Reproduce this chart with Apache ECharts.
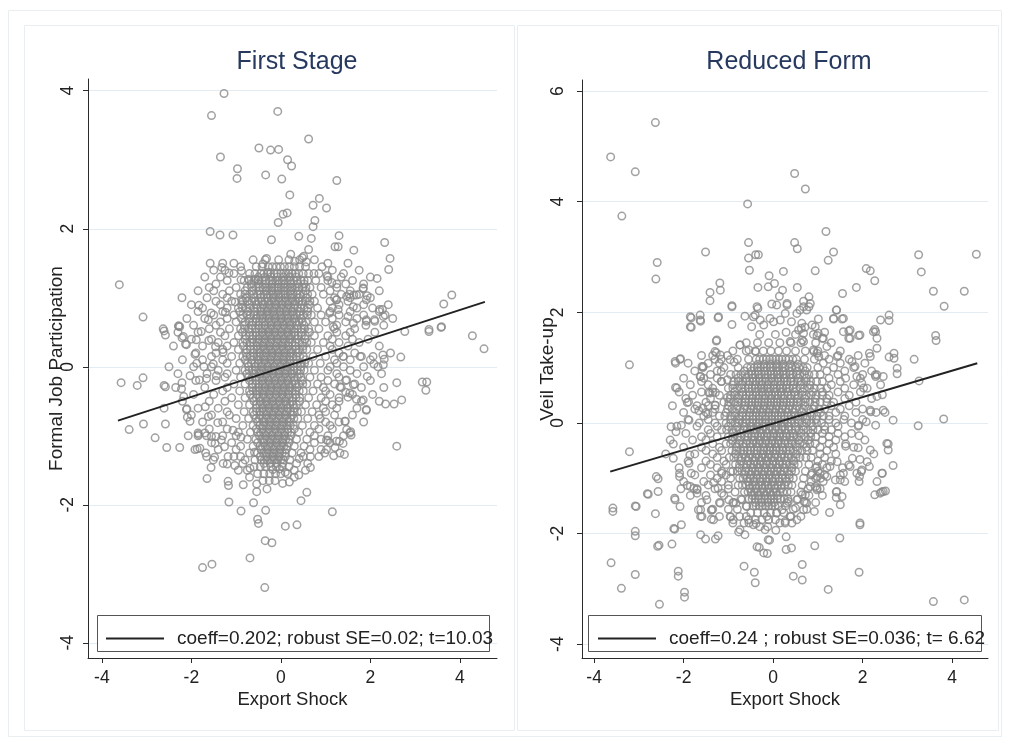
<!DOCTYPE html>
<html>
<head>
<meta charset="utf-8">
<title>First Stage / Reduced Form</title>
<script src="https://cdn.jsdelivr.net/npm/echarts@6.0.0/dist/echarts.min.js"></script>
<style>
  html, body { margin: 0; padding: 0; background: #fff; }
  #chart { width: 1010px; height: 740px; }
</style>
</head>
<body>
<div id="chart"></div>
<script>
// tick labels
const xTicks = [-4, -2, 0, 2, 4];
const firstYTicks = [-4, -2, 0, 2, 4];
const reducedYTicks = [-4, -2, 0, 2, 4, 6];

const firstLegendText = 'coeff=0.202; robust SE=0.02; t=10.03';
const reducedLegendText = 'coeff=0.24 ; robust SE=0.036; t= 6.62';

// fitted lines, end points
const firstFit = [[-3.64, -0.78], [4.56, 0.94]];
const reducedFit = [[-3.64, -0.88], [4.56, 1.08]];

// First Stage: scattered points outside the dense cloud, [x, y]
const firstScatter = [
  [-1.27,3.96],[-1.55,3.64],[-0.07,3.70],[0.62,3.30],[-1.35,3.04],[-0.49,3.17],[-0.23,3.14],[-0.05,3.15],
  [-0.97,2.87],[-0.98,2.73],[-0.34,2.78],[0.02,2.72],[0.15,3.00],[0.24,2.91],[1.25,2.70],[0.20,2.49],
  [0.86,2.44],[0.72,2.34],[1.02,2.30],[0.05,2.21],[0.14,2.23],[-0.06,2.09],[0.76,2.12],[0.72,2.03],
  [-1.58,1.96],[-1.36,1.91],[-1.07,1.91],[-0.21,1.84],[0.40,1.89],[0.68,1.86],[1.30,1.90],[0.62,1.70],
  [1.21,1.74],[1.28,1.74],[1.63,1.69],[2.32,1.80],[2.44,1.57],[2.41,1.41],[2.15,1.28],[-1.58,1.50],
  [-1.32,1.44],[-1.16,1.36],[-0.88,1.39],[-3.61,1.19],[-3.08,0.72],[-2.21,1.00],[-1.83,0.89],[-2.28,0.59],
  [-2.63,0.55],[-1.56,0.78],[-1.62,0.68],[-1.24,0.79],[-1.02,0.94],[-0.88,0.97],[-0.89,1.26],[-0.72,1.27],
  [-0.57,1.27],[-0.51,1.26],[-0.40,1.49],[-0.32,1.57],[0.22,1.63],[0.48,1.58],[0.57,1.52],[0.74,1.35],
  [1.03,1.32],[1.14,1.22],[1.53,1.05],[1.63,1.04],[1.84,1.13],[1.93,1.03],[1.25,0.97],[3.82,1.04],
  [3.64,0.91],[2.27,0.83],[2.33,0.75],[1.91,0.66],[2.09,0.68],[3.59,0.58],[3.31,0.54],[4.28,0.45],
  [4.54,0.26],[3.58,0.57],[3.31,0.51],[2.77,0.51],[2.68,0.14],[2.28,0.17],[2.31,0.11],[2.17,0.00],
  [2.08,0.04],[2.59,-0.23],[3.16,-0.22],[3.26,-0.22],[3.24,-0.34],[2.34,-0.54],[2.53,-0.54],[2.70,-0.48],
  [2.59,-1.15],[1.93,-0.14],[1.91,-0.63],[1.84,-0.48],[1.69,-0.47],[1.50,-0.44],[1.45,-0.37],[1.44,-0.79],
  [1.56,-0.94],[1.57,-0.99],[1.42,-1.27],[1.18,-1.29],[1.21,-1.17],[1.31,-1.08],[1.05,-1.07],[0.98,-1.25],
  [1.15,-2.10],[0.58,-1.82],[0.45,-1.94],[0.66,-1.46],[0.66,-1.30],[0.41,-1.33],[0.40,-1.57],[0.36,-2.29],
  [0.10,-2.31],[-0.34,-2.08],[-0.52,-2.21],[-0.50,-2.27],[-0.35,-2.52],[-0.20,-2.55],[-0.69,-2.77],[-1.75,-2.91],
  [-1.54,-2.86],[-0.36,-3.20],[-0.89,-2.09],[-0.61,-1.97],[-1.16,-1.96],[-1.65,-1.62],[-1.56,-1.46],[-1.18,-1.66],
  [-1.17,-1.72],[-0.84,-1.71],[-0.54,-1.70],[-0.54,-1.81],[-0.31,-1.77],[0.19,-1.67],[0.04,-1.69],[-3.57,-0.23],
  [-3.39,-0.91],[-3.21,-0.27],[-3.08,-0.16],[-3.07,-0.83],[-2.81,-1.03],[-2.55,-1.17],[-2.26,-1.17],[-2.58,-0.83],
  [-2.61,-0.27],[-2.58,-0.29],[-2.61,-0.60],[-2.21,-0.23],[-2.22,-0.32],[-2.17,-0.43],[-2.10,-0.61],[-2.09,-0.73],
  [-2.03,-0.79],[-2.07,-1.00],[-1.84,-0.98],[-1.66,-1.00],[-1.87,-1.19],[-1.68,-1.25],[-2.03,-0.13],[-1.82,-0.19],
  [-1.66,-0.17],[-1.44,-0.13],[-2.29,0.59],[-2.13,0.33],[-2.21,0.42],[-2.61,0.52],[-2.58,0.46],[-1.89,0.39],
  [-1.92,0.18],[-1.88,0.05],[-1.78,0.51],[-1.61,0.38],[-1.46,0.29],[-1.29,0.21],[-1.51,0.04],[-1.72,0.00],
  [-1.69,-0.58],[-1.62,-0.72],[-1.41,-0.81],[-1.07,-0.92],[-0.89,-1.02],[-1.45,-1.01],[-1.33,-1.06],[-1.26,-1.16],
  [-1.48,-1.31],[-1.20,-1.41],[-1.03,-1.43],[-0.69,-1.47],[-0.59,-1.24],[-0.18,-1.49],[-0.03,-1.48],[0.10,-1.53],
  [-2.11,-0.62],[-1.85,-0.96],[-1.70,-0.96],[-1.55,-1.01],[-1.47,-1.11],[-1.81,-1.18],[-1.92,-1.20],[-1.66,-1.30],
  [-1.51,-1.35],[-1.29,-1.40],[-1.18,-1.30],[1.02,-1.06],[1.24,-1.08],[1.39,-1.11],[1.32,-1.25],[1.02,-1.20],
  [1.47,-0.91],[1.54,-0.96],[1.43,-0.79],[1.80,-0.50],[1.91,-0.62],[1.47,-0.19],[1.62,-0.26],[1.32,-0.29],
  [1.54,-0.38],[1.77,0.15],[2.06,0.15],[2.29,0.03],[1.39,0.15],[1.47,1.02],[1.69,1.04],[1.84,1.14],
  [1.91,0.97],[1.62,0.87],[1.50,0.73],[2.21,0.83],[2.29,0.73],[1.91,0.68],[2.10,0.66],[1.24,0.97],
  [1.28,0.83],[1.09,0.78],[1.17,0.58],[1.62,0.63],[-0.28,1.37],[0.31,1.53],[0.51,1.60],[-2.26,0.58],
  [-2.18,0.44],[-2.11,0.32]
];

// First Stage: dense cloud, one row per y level: [y, [x, ...]]
const firstCoreRows = [
  [1.55, [-0.62,-0.35,-0.05,0.18,0.42,0.75]],
  [1.45, [-0.9,-0.55,-0.28,-0.1,0.08,0.3,0.55,0.92]],
  [1.35, [-1.05,-0.7,-0.45,-0.3,-0.15,0.0,0.12,0.25,0.4,0.62,0.85,1.4]],
  [1.25, [-1.2,-0.82,-0.6,-0.42,-0.25,-0.12,0.02,0.15,0.28,0.45,0.6,0.78,1.05,1.6]],
  [1.15, [-1.6,-1.0,-0.75,-0.55,-0.4,-0.28,-0.15,-0.05,0.08,0.2,0.32,0.48,0.65,0.9,1.25]],
  [1.05, [-1.3,-0.9,-0.7,-0.52,-0.38,-0.25,-0.12,0.0,0.1,0.22,0.35,0.5,0.7,0.95,1.35,1.75]],
  [0.95, [-1.45,-1.1,-0.85,-0.65,-0.5,-0.36,-0.22,-0.1,0.03,0.15,0.27,0.4,0.55,0.75,1.1,1.5]],
  [0.85, [-1.75,-1.2,-0.95,-0.78,-0.6,-0.45,-0.32,-0.2,-0.08,0.05,0.17,0.3,0.44,0.6,0.82,1.15,1.7,2.05]],
  [0.75, [-1.5,-1.05,-0.85,-0.68,-0.52,-0.4,-0.27,-0.15,-0.03,0.1,0.22,0.35,0.5,0.68,0.9,1.3,1.85]],
  [0.65, [-1.35,-1.0,-0.8,-0.62,-0.48,-0.35,-0.22,-0.1,0.02,0.14,0.26,0.4,0.56,0.75,1.0,1.45]],
  [0.55, [-1.6,-1.15,-0.9,-0.72,-0.56,-0.43,-0.3,-0.18,-0.06,0.06,0.18,0.3,0.45,0.62,0.85,1.2,1.65]],
  [0.45, [-1.25,-0.95,-0.78,-0.62,-0.48,-0.36,-0.24,-0.12,0.0,0.12,0.24,0.38,0.55,0.75,1.05,1.45]],
  [0.35, [-1.4,-1.05,-0.85,-0.68,-0.54,-0.42,-0.3,-0.18,-0.06,0.06,0.18,0.32,0.48,0.68,0.95,1.3,1.75]],
  [0.25, [-1.3,-0.95,-0.76,-0.6,-0.47,-0.35,-0.23,-0.11,0.01,0.13,0.26,0.4,0.58,0.82,1.15]],
  [0.15, [-1.55,-1.1,-0.85,-0.68,-0.53,-0.4,-0.28,-0.16,-0.04,0.08,0.2,0.34,0.5,0.72,1.0,1.4,1.8]],
  [0.05, [-1.2,-0.92,-0.74,-0.58,-0.45,-0.33,-0.21,-0.09,0.03,0.15,0.28,0.44,0.62,0.88,1.25]],
  [-0.05, [-1.4,-1.0,-0.8,-0.63,-0.5,-0.38,-0.26,-0.14,-0.02,0.1,0.22,0.36,0.52,0.75,1.05,1.55]],
  [-0.15, [-1.25,-0.9,-0.72,-0.56,-0.43,-0.31,-0.19,-0.07,0.05,0.17,0.3,0.45,0.65,0.9,1.3]],
  [-0.25, [-1.05,-0.8,-0.63,-0.49,-0.36,-0.24,-0.12,0.0,0.12,0.25,0.4,0.58,0.82,1.2,1.65]],
  [-0.35, [-1.3,-0.92,-0.7,-0.55,-0.42,-0.3,-0.18,-0.06,0.06,0.18,0.32,0.5,0.72,1.0]],
  [-0.45, [-1.1,-0.8,-0.62,-0.48,-0.35,-0.23,-0.11,0.01,0.13,0.26,0.42,0.62,0.9,1.3]],
  [-0.55, [-0.95,-0.7,-0.54,-0.41,-0.29,-0.17,-0.05,0.07,0.2,0.35,0.55,0.8,1.15]],
  [-0.65, [-1.2,-0.82,-0.62,-0.47,-0.34,-0.22,-0.1,0.02,0.14,0.28,0.46,0.7,1.0]],
  [-0.75, [-1.0,-0.72,-0.55,-0.41,-0.28,-0.16,-0.04,0.08,0.21,0.38,0.6,0.88]],
  [-0.85, [-0.85,-0.62,-0.47,-0.34,-0.22,-0.1,0.02,0.14,0.28,0.48,0.75,1.1]],
  [-0.95, [-0.95,-0.68,-0.52,-0.39,-0.27,-0.15,-0.03,0.09,0.22,0.4,0.65]],
  [-1.05, [-0.75,-0.56,-0.43,-0.31,-0.19,-0.07,0.05,0.18,0.35,0.58,0.9]],
  [-1.15, [-0.9,-0.62,-0.47,-0.35,-0.23,-0.11,0.01,0.14,0.3,0.52]],
  [-1.25, [-0.7,-0.52,-0.39,-0.27,-0.15,-0.03,0.1,0.25,0.45]],
  [-1.35, [-0.8,-0.58,-0.44,-0.31,-0.19,-0.07,0.06,0.2]],
  [-1.45, [-0.6,-0.46,-0.34,-0.22,-0.1,0.03,0.18]],
  [-1.55, [-0.52,-0.38,-0.25,-0.12,0.0,0.15]],
  [-1.65, [-0.4,-0.26,-0.13]],
  // in-between rows where the cloud is solid
  [1.3, [-0.5,-0.36,-0.22,-0.08,0.06,0.2,0.34]],
  [1.2, [-0.66,-0.5,-0.34,-0.2,-0.06,0.08,0.22,0.38,0.52]],
  [1.1, [-0.8,-0.64,-0.48,-0.33,-0.2,-0.06,0.08,0.22,0.38,0.55]],
  [1.0, [-0.78,-0.6,-0.45,-0.3,-0.17,-0.04,0.1,0.24,0.4,0.58]],
  [0.9, [-0.88,-0.7,-0.55,-0.4,-0.26,-0.12,0.02,0.16,0.3,0.46,0.64]],
  [0.8, [-0.92,-0.74,-0.58,-0.44,-0.3,-0.16,-0.02,0.12,0.26,0.42,0.6]],
  [0.7, [-0.88,-0.7,-0.55,-0.41,-0.27,-0.13,0.01,0.15,0.3,0.46]],
  [0.6, [-0.82,-0.64,-0.5,-0.36,-0.22,-0.08,0.06,0.2,0.36,0.52]],
  [0.5, [-0.86,-0.7,-0.55,-0.41,-0.27,-0.13,0.01,0.15,0.3,0.46,0.64]],
  [0.4, [-0.8,-0.64,-0.5,-0.36,-0.22,-0.08,0.06,0.2,0.36,0.54]],
  [0.3, [-0.84,-0.68,-0.53,-0.39,-0.25,-0.11,0.03,0.17,0.32,0.5]],
  [0.2, [-0.78,-0.62,-0.48,-0.34,-0.2,-0.06,0.08,0.22,0.38]],
  [0.1, [-0.8,-0.64,-0.5,-0.36,-0.22,-0.08,0.06,0.2,0.36,0.55]],
  [0.0, [-0.72,-0.57,-0.43,-0.29,-0.15,-0.01,0.13,0.28,0.45]],
  [-0.1, [-0.76,-0.6,-0.46,-0.32,-0.18,-0.04,0.1,0.25,0.42]],
  [-0.2, [-0.7,-0.55,-0.41,-0.27,-0.13,0.01,0.15,0.3,0.48]],
  [-0.3, [-0.64,-0.5,-0.36,-0.22,-0.08,0.06,0.2,0.36]],
  [-0.4, [-0.68,-0.53,-0.39,-0.25,-0.11,0.03,0.17,0.33]],
  [-0.5, [-0.6,-0.46,-0.32,-0.18,-0.04,0.1,0.25,0.42]],
  [-0.6, [-0.55,-0.41,-0.27,-0.13,0.01,0.15,0.3]],
  [-0.7, [-0.6,-0.46,-0.32,-0.18,-0.04,0.1,0.26]],
  [-0.8, [-0.52,-0.38,-0.24,-0.1,0.04,0.18]],
  [-0.9, [-0.55,-0.41,-0.27,-0.13,0.01,0.15,0.3]],
  [-1.0, [-0.48,-0.34,-0.2,-0.06,0.08,0.22]],
  [-1.1, [-0.52,-0.38,-0.24,-0.1,0.04,0.18]],
  [-1.2, [-0.44,-0.3,-0.16,-0.02,0.12]],
  [-1.3, [-0.46,-0.32,-0.18,-0.04,0.1]],
  [-1.4, [-0.38,-0.24,-0.1,0.04]]
];

// First Stage: the solid centre of the cloud
const firstFillRows = [
  [1.45, [-0.42,-0.19,-0.01,0.19,0.42]],
  [1.35, [-0.58,-0.38,-0.23,-0.08,0.06,0.18,0.32,0.5]],
  [1.25, [-0.71,-0.51,-0.33,-0.18,-0.05,0.08,0.21,0.36,0.52]],
  [1.15, [-0.65,-0.47,-0.34,-0.21,-0.1,0.01,0.14,0.26,0.4,0.56]],
  [1.05, [-0.8,-0.61,-0.45,-0.31,-0.18,-0.06,0.05,0.16,0.28,0.42,0.6]],
  [0.95, [-0.75,-0.57,-0.43,-0.29,-0.16,-0.04,0.09,0.21,0.33,0.47,0.65]],
  [0.85, [-0.86,-0.69,-0.52,-0.38,-0.26,-0.14,-0.01,0.11,0.23,0.37,0.52]],
  [0.75, [-0.76,-0.6,-0.46,-0.33,-0.21,-0.09,0.03,0.16,0.28,0.42,0.59]],
  [0.65, [-0.71,-0.55,-0.41,-0.28,-0.16,-0.04,0.08,0.2,0.33,0.48]],
  [0.55, [-0.81,-0.64,-0.49,-0.36,-0.24,-0.12,0.0,0.12,0.24,0.37,0.53]],
  [0.45, [-0.7,-0.55,-0.42,-0.3,-0.18,-0.06,0.06,0.18,0.31,0.46]],
  [0.35, [-0.76,-0.61,-0.48,-0.36,-0.24,-0.12,0.0,0.12,0.25,0.4,0.58]],
  [0.25, [-0.68,-0.53,-0.41,-0.29,-0.17,-0.05,0.07,0.19,0.33,0.49]],
  [0.15, [-0.76,-0.6,-0.46,-0.34,-0.22,-0.1,0.02,0.14,0.27,0.42]],
  [0.05, [-0.66,-0.51,-0.39,-0.27,-0.15,-0.03,0.09,0.21,0.36,0.53]],
  [-0.05, [-0.71,-0.56,-0.44,-0.32,-0.2,-0.08,0.04,0.16,0.29,0.44]],
  [-0.15, [-0.64,-0.49,-0.37,-0.25,-0.13,-0.01,0.11,0.23,0.37]],
  [-0.25, [-0.56,-0.42,-0.3,-0.18,-0.06,0.06,0.18,0.32,0.49]],
  [-0.35, [-0.62,-0.48,-0.36,-0.24,-0.12,0.0,0.12,0.25,0.41]],
  [-0.45, [-0.55,-0.41,-0.29,-0.17,-0.05,0.07,0.19,0.34]],
  [-0.55, [-0.47,-0.35,-0.23,-0.11,0.01,0.13,0.27]],
  [-0.65, [-0.54,-0.4,-0.28,-0.16,-0.04,0.08,0.21,0.37]],
  [-0.75, [-0.48,-0.34,-0.22,-0.1,0.02,0.14,0.29]],
  [-0.85, [-0.4,-0.28,-0.16,-0.04,0.08,0.21]],
  [-0.95, [-0.45,-0.33,-0.21,-0.09,0.03,0.15]],
  [-1.05, [-0.37,-0.25,-0.13,-0.01,0.11]],
  [-1.15, [-0.41,-0.29,-0.17,-0.05,0.07]],
  [-1.25, [-0.33,-0.21,-0.09,0.03]],
  [-1.35, [-0.37,-0.25,-0.13,0.0]]
];

// First Stage: thinner ring of points around the dense cloud
const firstFringeRows = [
  [1.5, [-1.3,-1.05,1.05,1.5]],
  [1.4, [-1.5,-1.25,1.15,1.75]],
  [1.3, [-1.7,-1.35,1.05,1.35,2.0]],
  [1.2, [-1.45,1.25,1.45,1.85]],
  [1.1, [-1.85,-1.5,-1.15,1.1,1.55,2.2]],
  [1.0, [-1.65,-1.2,1.2,1.55,2.0]],
  [0.9, [-2.0,-1.35,1.3,1.85,2.4]],
  [0.8, [-1.85,-1.3,1.1,1.55,2.2]],
  [0.7, [-2.1,-1.7,-1.2,1.15,1.7,2.5]],
  [0.6, [-1.95,-1.45,1.25,1.9,2.3]],
  [0.5, [-2.3,-1.85,-1.35,1.25,1.55,2.1]],
  [0.4, [-2.0,-1.55,1.15,1.6,1.95]],
  [0.3, [-2.4,-1.75,-1.2,1.1,1.5,2.2]],
  [0.2, [-1.9,-1.45,1.3,1.65,2.45]],
  [0.1, [-2.2,-1.75,-1.3,1.2,1.55,2.0]],
  [0.0, [-2.5,-1.95,-1.55,1.1,1.4,1.85]],
  [-0.1, [-2.3,-1.65,-1.2,1.25,1.7,2.25]],
  [-0.2, [-1.9,-1.45,1.05,1.45,2.0]],
  [-0.3, [-2.35,-1.7,-1.2,0.95,1.35,1.8,2.3]],
  [-0.4, [-1.95,-1.5,1.1,1.6,2.05]],
  [-0.5, [-2.2,-1.6,-1.25,1.0,1.3,2.2]],
  [-0.6, [-1.85,-1.4,0.95,1.25,1.7]],
  [-0.7, [-2.0,-1.55,-1.15,0.85,1.2,1.6]],
  [-0.8, [-1.75,-1.3,1.0,1.3,1.85]],
  [-0.9, [-1.6,-1.2,0.85,1.15]],
  [-1.0, [-1.85,-1.3,-1.0,0.75,1.05,1.4]],
  [-1.1, [-1.55,-1.1,0.75,1.1]],
  [-1.2, [-1.4,-1.0,0.65,0.9]],
  [-1.3, [-1.05,-0.9,0.5,0.85]],
  [-1.4, [-0.85,0.35,0.6]],
  [-1.5, [-0.95,-0.75,0.3,0.55]],
  [-1.6, [-0.7,0.3]]
];

// Reduced Form: scattered points outside the dense cloud, [x, y]
const reducedScatter = [
  [-2.63,5.43],[-3.63,4.81],[-3.08,4.54],[-3.38,3.74],[0.48,4.51],[0.72,4.23],[-0.57,3.96],[1.18,3.46],
  [-0.55,3.26],[0.48,3.26],[0.54,3.15],[1.35,3.09],[1.23,2.94],[-0.55,2.98],[-0.39,3.04],[-0.33,3.04],
  [-0.53,2.76],[-1.51,3.09],[-2.59,2.90],[-2.62,2.60],[3.25,3.04],[3.31,2.73],[4.54,3.05],[3.58,2.38],
  [4.27,2.38],[3.82,2.11],[2.08,2.79],[2.17,2.75],[2.27,2.57],[1.86,2.45],[1.55,2.34],[0.94,2.75],
  [0.23,2.74],[-0.09,2.66],[0.03,2.52],[0.54,2.45],[-0.34,2.45],[-0.11,2.46],[-1.19,2.53],[-1.18,2.40],
  [-1.41,2.36],[-1.41,2.21],[-0.92,2.12],[-0.03,2.15],[0.14,2.29],[0.21,2.40],[0.31,2.16],[0.68,2.20],
  [0.80,2.28],[0.80,2.10],[0.60,2.04],[1.41,2.04],[-1.83,1.90],[-1.63,1.95],[-1.63,1.86],[-1.23,1.90],
  [-0.92,1.78],[-0.63,1.93],[-0.34,2.07],[-0.40,1.95],[1.35,1.88],[1.54,1.88],[1.01,1.88],[2.40,1.86],
  [2.59,1.95],[2.59,1.85],[2.27,1.69],[-3.21,1.05],[-2.18,1.08],[-2.07,1.16],[-2.18,0.64],[-1.92,0.37],
  [-1.83,1.73],[-1.62,1.84],[-1.27,1.48],[-1.27,1.27],[-1.16,1.15],[-1.02,1.22],[-0.87,1.10],[-1.57,1.00],
  [-1.62,0.84],[-1.16,0.93],[-1.16,0.75],[-1.02,0.78],[-1.44,0.55],[-1.29,0.55],[-1.02,0.46],[-1.29,0.32],
  [-0.74,1.41],[-0.54,1.32],[-0.39,1.29],[-0.48,1.74],[-0.21,1.77],[0.01,1.83],[0.29,1.64],[0.41,1.83],
  [0.63,1.71],[0.71,1.73],[0.87,1.77],[0.65,1.50],[0.98,1.58],[1.15,1.64],[1.10,1.53],[0.91,1.29],
  [1.02,1.20],[1.43,1.20],[1.69,1.66],[1.69,1.53],[1.91,1.58],[2.29,1.65],[2.32,1.53],[2.32,1.35],
  [2.15,1.26],[2.17,1.20],[2.59,1.19],[2.70,1.26],[2.70,1.17],[3.15,1.15],[3.63,1.58],[3.64,1.49],
  [2.77,0.99],[2.77,0.89],[3.26,0.76],[2.29,0.84],[2.32,0.87],[3.81,0.07],[3.24,-0.05],[2.68,0.05],
  [2.50,0.19],[2.18,0.20],[2.29,-0.04],[2.32,0.48],[2.44,0.51],[2.08,0.02],[1.91,-0.04],[1.92,-0.23],
  [1.90,-0.45],[2.57,-0.38],[2.57,-0.49],[2.68,-0.77],[2.44,-0.91],[2.10,-0.70],[2.15,-0.79],[1.97,-0.88],
  [1.93,-0.97],[1.92,-1.06],[2.27,-1.30],[2.42,-1.25],[2.51,-1.23],[1.94,-1.81],[1.94,-1.84],[1.49,-2.08],
  [1.92,-2.70],[1.23,-3.01],[0.93,-2.22],[0.65,-2.56],[0.45,-2.77],[0.65,-2.84],[0.29,-2.06],[0.29,-2.29],
  [0.41,-2.26],[-0.11,-2.11],[-0.08,-2.12],[-0.21,-2.35],[-0.13,-2.36],[-0.36,-2.24],[-0.31,-2.25],[-0.65,-2.59],
  [-0.42,-2.70],[-0.40,-2.89],[-0.77,-1.97],[-0.63,-2.02],[-0.74,-1.93],[-0.18,-1.93],[0.06,-1.94],[0.27,-1.78],
  [-0.95,-1.70],[-0.54,-1.81],[-0.38,-1.82],[-1.62,-2.02],[-1.51,-2.10],[-1.29,-2.10],[-1.23,-2.04],[-1.62,-1.57],
  [-1.62,-1.69],[-1.38,-1.58],[-1.38,-1.74],[-2.05,-1.84],[-2.22,-1.91],[-2.20,-1.92],[-2.26,-2.19],[-2.55,-2.21],
  [-2.58,-2.23],[-2.63,-1.64],[-3.08,-1.50],[-3.06,-1.51],[-3.58,-1.54],[-3.58,-1.60],[-3.08,-1.96],[-3.08,-2.04],
  [-3.62,-2.53],[-3.08,-2.74],[-3.39,-2.99],[-2.54,-3.28],[-2.12,-2.68],[-2.12,-2.77],[-1.98,-3.06],[-1.98,-3.15],
  [3.58,-3.23],[4.27,-3.20],[-2.81,-1.28],[-2.79,-1.29],[-2.57,-1.24],[-2.61,-0.97],[-2.57,-1.01],[-2.09,-0.91],
  [-2.09,-0.97],[-2.20,-1.36],[-1.92,-1.13],[-2.06,-1.19],[-1.77,-1.18],[-1.70,-1.27],[-3.21,-0.52],[-2.23,-0.64],
  [-2.23,-0.38],[-2.28,-0.07],[-2.17,-0.16],[-2.05,-0.04],[-1.88,0.05],[-1.88,-0.73],[-1.86,-0.58],[-1.83,-0.91],
  [-1.66,0.22],[-1.57,0.27],[-1.46,0.16],[-1.30,0.32],[-1.45,-1.12],[-1.33,-1.08],[-1.23,-1.18],[-1.15,-1.27],
  [-0.99,-1.39],[-0.88,-1.44],[-0.83,-1.45],[-0.95,-0.88],[-1.15,-0.91],[0.92,-1.60],[1.26,-1.62],[1.41,-1.25],
  [1.54,-1.33],[1.50,-1.48],[1.41,-1.35],[0.65,-1.30],[0.69,-1.42],[0.72,-1.30],[0.95,-1.15],[0.98,-1.21],
  [1.69,-0.76],[1.77,-0.64],[1.43,-0.70],[1.39,-1.03],[1.50,-0.94],[1.62,-0.38],[1.62,-0.42],[0.98,-0.97],
  [1.06,-1.00],[0.87,-0.91],[0.34,-1.42],[0.50,-1.54],[0.20,-1.57],[-2.19,1.11],[-2.08,1.15],[-1.59,1.02],
  [-1.63,0.84],[-2.15,0.63],[-1.89,0.38],[-1.41,0.54],[1.57,1.65],[1.72,1.68],[1.94,1.59],[1.72,1.53],
  [2.24,1.65],[1.76,1.11],[1.83,1.02],[1.87,0.84],[1.98,0.72],[2.02,0.63],[2.28,0.87],[2.46,0.84],
  [2.17,0.23],[2.46,0.23],[2.54,-0.37],[2.17,-0.49],[1.94,-0.66],[1.87,-0.91],[1.98,-0.85],[1.72,-0.79],
  [1.57,-0.91],[1.50,-1.03],[1.42,-1.24],[2.43,-0.91],[2.32,-1.06],[2.46,-1.24],[2.39,-1.27],[-2.19,-1.39],
  [-2.08,-1.51],[-1.85,-1.15],[-1.70,-1.21],[-1.67,-1.57],[-1.59,-1.69],[-1.37,-1.57],[-1.33,-1.75],[-1.48,-1.39],
  [-1.18,-1.45],[-0.96,-1.69],[-0.89,-1.75],[-0.70,-1.39],[-0.59,-1.51],[-0.55,-1.75],[-0.44,-1.84],[-0.14,-1.69],
  [0.08,-1.63],[0.31,-1.45],[0.53,-1.39],[0.38,-1.69],[0.68,-1.57],[0.75,-1.45],[0.53,-1.75],[0.27,-1.81],
  [0.98,-1.18],[0.83,-1.15],[1.05,-0.91],[1.20,-0.97],[1.27,-0.79],[0.98,-0.79],[-1.85,1.92],[-1.85,1.74],
  [-1.22,1.92],[-0.92,2.10],[-0.74,1.41],[-1.26,1.50],[-0.96,1.14],[-1.18,1.23],[-1.30,1.29],[-1.56,1.02],
  [-0.44,1.92],[-0.29,1.86],[-0.07,1.89],[0.16,1.86],[0.27,1.98],[-0.36,2.10],[0.08,2.13],[0.31,2.13],
  [0.68,2.10],[0.75,2.04],[0.83,2.16],[1.42,2.04],[1.57,1.89],[1.35,1.89],[0.94,1.74],[1.01,1.62],
  [1.12,1.53],[1.20,1.38],[0.90,1.32],[0.98,1.26],[0.53,1.98],[0.64,1.80],[0.68,1.62],[0.68,1.47],
  [0.57,1.68],[0.38,1.47]
];

// Reduced Form: dense cloud, one row per y level: [y, [x, ...]]
const reducedCoreRows = [
  [1.6, [-0.3,0.05,0.5,0.9]],
  [1.45, [-0.6,-0.35,-0.1,0.15,0.4,0.62,0.95,1.3]],
  [1.3, [-0.9,-0.6,-0.4,-0.22,-0.05,0.12,0.3,0.5,0.72,1.0,1.5]],
  [1.15, [-1.3,-0.8,-0.55,-0.38,-0.22,-0.08,0.06,0.2,0.35,0.52,0.7,0.92,1.25,1.7]],
  [1.0, [-1.1,-0.78,-0.58,-0.42,-0.28,-0.14,0.0,0.13,0.27,0.42,0.58,0.76,1.0,1.35,1.8]],
  [0.875, [-1.4,-0.95,-0.72,-0.54,-0.4,-0.26,-0.12,0.02,0.15,0.29,0.44,0.6,0.8,1.05,1.45,2.0]],
  [0.75, [-1.6,-1.15,-0.88,-0.68,-0.52,-0.38,-0.24,-0.1,0.03,0.17,0.31,0.46,0.63,0.84,1.1,1.5]],
  [0.625, [-1.35,-1.0,-0.8,-0.62,-0.47,-0.33,-0.2,-0.06,0.08,0.22,0.36,0.52,0.7,0.92,1.2,1.6,2.1]],
  [0.5, [-1.8,-1.2,-0.95,-0.76,-0.6,-0.45,-0.31,-0.17,-0.03,0.11,0.25,0.4,0.56,0.74,0.96,1.25,1.7]],
  [0.375, [-1.5,-1.1,-0.88,-0.7,-0.54,-0.4,-0.26,-0.12,0.02,0.16,0.3,0.45,0.62,0.82,1.05,1.35,1.85]],
  [0.25, [-1.75,-1.3,-1.02,-0.82,-0.65,-0.5,-0.36,-0.22,-0.08,0.06,0.2,0.35,0.5,0.68,0.9,1.15,1.5,2.0]],
  [0.125, [-1.55,-1.2,-0.95,-0.76,-0.6,-0.45,-0.31,-0.17,-0.03,0.11,0.25,0.4,0.57,0.76,0.98,1.25,1.6]],
  [0.0, [-1.65,-1.3,-1.05,-0.85,-0.68,-0.52,-0.38,-0.24,-0.1,0.04,0.18,0.32,0.48,0.65,0.85,1.08,1.4,1.75]],
  [-0.125, [-1.45,-1.15,-0.92,-0.74,-0.58,-0.44,-0.3,-0.16,-0.02,0.12,0.26,0.41,0.58,0.78,1.0,1.3]],
  [-0.25, [-1.6,-1.25,-1.0,-0.8,-0.63,-0.48,-0.34,-0.2,-0.06,0.08,0.22,0.37,0.53,0.72,0.95,1.25,1.6]],
  [-0.375, [-1.35,-1.05,-0.84,-0.67,-0.52,-0.38,-0.24,-0.1,0.04,0.18,0.33,0.5,0.7,0.94,1.25]],
  [-0.5, [-1.5,-1.15,-0.92,-0.73,-0.57,-0.42,-0.28,-0.14,0.0,0.14,0.29,0.45,0.64,0.88,1.2]],
  [-0.625, [-1.25,-0.98,-0.78,-0.61,-0.46,-0.32,-0.18,-0.04,0.1,0.25,0.41,0.6,0.85,1.15]],
  [-0.75, [-1.4,-1.05,-0.84,-0.66,-0.5,-0.36,-0.22,-0.08,0.06,0.21,0.37,0.56,0.8,1.1]],
  [-0.875, [-1.15,-0.9,-0.7,-0.54,-0.4,-0.26,-0.12,0.02,0.16,0.32,0.5,0.72,1.0]],
  [-1.0, [-1.25,-0.95,-0.75,-0.58,-0.44,-0.3,-0.16,-0.02,0.12,0.27,0.45,0.68,0.95]],
  [-1.125, [-1.0,-0.78,-0.6,-0.46,-0.32,-0.18,-0.04,0.1,0.25,0.42,0.65]],
  [-1.25, [-0.85,-0.64,-0.49,-0.35,-0.21,-0.07,0.07,0.22,0.4,0.62]],
  [-1.375, [-0.72,-0.54,-0.4,-0.26,-0.12,0.02,0.16,0.33,0.55]],
  [-1.5, [-0.6,-0.45,-0.31,-0.17,-0.03,0.11,0.28]],
  [-1.625, [-0.5,-0.35,-0.2,-0.06,0.08,0.24]],
  [-1.75, [-0.4,-0.25,-0.1,0.05]],
  [-1.875, [-0.3,-0.12]],
  // in-between rows where the cloud is solid
  [1.0625, [-0.34,-0.2,-0.06,0.08,0.22,0.38,0.55]],
  [0.9375, [-0.64,-0.48,-0.33,-0.19,-0.05,0.09,0.23,0.38,0.54,0.72]],
  [0.8125, [-0.78,-0.6,-0.45,-0.31,-0.17,-0.03,0.11,0.25,0.4,0.56,0.74]],
  [0.6875, [-0.9,-0.7,-0.54,-0.4,-0.26,-0.12,0.02,0.16,0.3,0.45,0.62,0.82]],
  [0.5625, [-0.86,-0.68,-0.53,-0.38,-0.24,-0.1,0.04,0.18,0.32,0.48,0.66,0.88]],
  [0.4375, [-0.96,-0.78,-0.62,-0.47,-0.33,-0.19,-0.05,0.09,0.23,0.38,0.54,0.72,0.94]],
  [0.3125, [-1.0,-0.8,-0.63,-0.48,-0.34,-0.2,-0.06,0.08,0.22,0.37,0.53,0.71,0.92]],
  [0.1875, [-1.05,-0.85,-0.68,-0.52,-0.38,-0.24,-0.1,0.04,0.18,0.32,0.47,0.64,0.84,1.06]],
  [0.0625, [-0.95,-0.76,-0.6,-0.45,-0.31,-0.17,-0.03,0.11,0.25,0.4,0.56,0.75,0.96]],
  [-0.0625, [-1.0,-0.8,-0.64,-0.49,-0.35,-0.21,-0.07,0.07,0.21,0.35,0.5,0.68,0.88]],
  [-0.1875, [-0.9,-0.72,-0.56,-0.41,-0.27,-0.13,0.01,0.15,0.29,0.44,0.62,0.84]],
  [-0.3125, [-0.92,-0.74,-0.58,-0.44,-0.3,-0.16,-0.02,0.12,0.26,0.41,0.58,0.78]],
  [-0.4375, [-0.82,-0.65,-0.5,-0.35,-0.21,-0.07,0.07,0.21,0.36,0.53,0.74]],
  [-0.5625, [-0.84,-0.66,-0.51,-0.37,-0.23,-0.09,0.05,0.19,0.34,0.52]],
  [-0.6875, [-0.72,-0.56,-0.42,-0.28,-0.14,0.0,0.14,0.29,0.46]],
  [-0.8125, [-0.76,-0.6,-0.46,-0.32,-0.18,-0.04,0.1,0.25,0.42]],
  [-0.9375, [-0.64,-0.5,-0.36,-0.22,-0.08,0.06,0.2,0.36]],
  [-1.0625, [-0.56,-0.42,-0.28,-0.14,0.0,0.14,0.3]],
  [-1.1875, [-0.52,-0.38,-0.24,-0.1,0.04,0.18]],
  [-1.3125, [-0.46,-0.32,-0.18,-0.04,0.1]],
  [-1.4375, [-0.4,-0.26,-0.12,0.02]]
];

// Reduced Form: the solid centre of the cloud
const reducedFillRows = [
  [1.15, [-0.3,-0.15,-0.01,0.13,0.28,0.44]],
  [1.0, [-0.5,-0.35,-0.21,-0.07,0.07,0.2,0.35,0.5,0.67]],
  [0.875, [-0.83,-0.63,-0.47,-0.33,-0.19,-0.05,0.09,0.22,0.37,0.52,0.7,0.92]],
  [0.75, [-0.78,-0.6,-0.45,-0.31,-0.17,-0.04,0.1,0.24,0.39,0.55,0.74,0.97]],
  [0.625, [-0.9,-0.71,-0.55,-0.4,-0.27,-0.13,0.01,0.15,0.29,0.44,0.61,0.81,1.06]],
  [0.5, [-0.86,-0.68,-0.53,-0.38,-0.24,-0.1,0.04,0.18,0.33,0.48,0.65,0.85,1.1]],
  [0.375, [-0.99,-0.79,-0.62,-0.47,-0.33,-0.19,-0.05,0.09,0.23,0.38,0.54,0.72,0.94,1.2]],
  [0.25, [-0.92,-0.74,-0.58,-0.43,-0.29,-0.15,-0.01,0.13,0.28,0.43,0.59,0.79,1.03]],
  [0.125, [-1.08,-0.86,-0.68,-0.53,-0.38,-0.24,-0.1,0.04,0.18,0.33,0.49,0.67,0.87,1.12]],
  [0.0, [-0.95,-0.77,-0.6,-0.45,-0.31,-0.17,-0.03,0.11,0.25,0.4,0.57,0.75,0.97]],
  [-0.125, [-1.04,-0.83,-0.66,-0.51,-0.37,-0.23,-0.09,0.05,0.19,0.34,0.5,0.68,0.89,1.15]],
  [-0.25, [-0.9,-0.72,-0.56,-0.41,-0.27,-0.13,0.01,0.15,0.3,0.45,0.63,0.84]],
  [-0.375, [-0.95,-0.76,-0.6,-0.45,-0.31,-0.17,-0.03,0.11,0.26,0.42,0.6,0.82]],
  [-0.5, [-0.83,-0.65,-0.5,-0.35,-0.21,-0.07,0.07,0.22,0.37,0.55,0.76]],
  [-0.625, [-0.88,-0.7,-0.54,-0.39,-0.25,-0.11,0.03,0.18,0.33,0.51,0.73]],
  [-0.75, [-0.75,-0.58,-0.43,-0.29,-0.15,-0.01,0.14,0.29,0.47]],
  [-0.875, [-0.8,-0.62,-0.47,-0.33,-0.19,-0.05,0.09,0.24,0.41]],
  [-1.0, [-0.67,-0.51,-0.37,-0.23,-0.09,0.05,0.2,0.36]],
  [-1.125, [-0.69,-0.53,-0.39,-0.25,-0.11,0.03,0.18,0.34]],
  [-1.25, [-0.56,-0.42,-0.28,-0.14,0.0,0.15,0.31]],
  [-1.375, [-0.47,-0.33,-0.19,-0.05,0.09,0.25]],
  [-1.5, [-0.38,-0.24,-0.1,0.04]]
];

// Reduced Form: thinner ring of points around the dense cloud
const reducedFringeRows = [
  [1.22, [-1.6,-1.35,1.15,1.45,1.9]],
  [1.08, [-1.9,-1.45,-1.2,1.12,1.5,2.05]],
  [0.94, [-1.75,-1.25,1.2,1.6,2.2]],
  [0.81, [-2.0,-1.55,-1.25,1.25,1.62,1.95]],
  [0.69, [-1.85,-1.45,1.3,1.8,2.4]],
  [0.56, [-2.1,-1.6,-1.35,1.1,1.45,1.95]],
  [0.44, [-1.95,-1.4,1.2,1.6,2.2]],
  [0.31, [-2.25,-1.7,-1.45,1.3,1.7]],
  [0.19, [-2.0,-1.5,-1.35,1.4,1.85,2.3]],
  [0.06, [-1.9,-1.45,1.25,1.58,2.0]],
  [-0.06, [-2.15,-1.7,-1.25,1.15,1.45,1.9]],
  [-0.19, [-1.95,-1.4,1.1,1.45,1.75]],
  [-0.31, [-2.3,-1.8,-1.5,1.1,1.4,2.05]],
  [-0.44, [-2.0,-1.6,-1.2,1.05,1.35,1.8]],
  [-0.56, [-2.4,-1.75,-1.35,1.05,1.4,2.25]],
  [-0.69, [-1.9,-1.5,-1.1,1.0,1.3]],
  [-0.81, [-2.1,-1.6,-1.25,0.95,1.2,1.55]],
  [-0.94, [-1.75,-1.4,-1.05,0.85,1.15]],
  [-1.06, [-2.0,-1.55,-1.15,0.85,1.12,1.6]],
  [-1.19, [-1.7,-1.3,-1.0,0.78,1.05]],
  [-1.31, [-1.85,-1.5,-1.1,0.8,1.1]],
  [-1.44, [-1.6,-1.2,-0.9,0.72,0.95]],
  [-1.56, [-1.35,-1.0,-0.8,0.45,0.75]],
  [-1.69, [-1.2,-0.75,-0.6,0.4,0.62]],
  [-1.81, [-0.9,-0.65,0.15,0.42]]
];

function rowsToPoints(rows) {
  const out = [];
  rows.forEach(([y, xs]) => xs.forEach(x => out.push([x, y])));
  return out;
}

const FONT = '"Liberation Sans", Arial, Helvetica, sans-serif';
const AXIS_COLOR = '#2b2b2b';
const TEXT_COLOR = '#222';
const ringStyle = { color: 'rgba(0,0,0,0)', borderColor: '#8a8a8a', borderWidth: 1.5 };

function xAxisFor(gridIndex, min, max) {
  return {
    gridIndex: gridIndex, type: 'value', min: min, max: max,
    name: 'Export Shock', nameLocation: 'middle', nameGap: 32, nameMoveOverlap: false,
    nameTextStyle: { fontSize: 18.5, color: TEXT_COLOR, fontFamily: FONT },
    axisLine: { show: true, onZero: false, lineStyle: { color: AXIS_COLOR, width: 1 } },
    axisTick: { show: true, length: 5, customValues: xTicks, lineStyle: { color: AXIS_COLOR } },
    axisLabel: { customValues: xTicks, fontSize: 17.5, margin: 11, color: TEXT_COLOR, fontFamily: FONT },
    splitLine: { show: false }
  };
}

function yAxisFor(gridIndex, min, max, ticks, name, gap, margin) {
  return {
    gridIndex: gridIndex, type: 'value', min: min, max: max,
    name: name, nameLocation: 'middle', nameRotate: 90, nameGap: gap, nameMoveOverlap: false,
    nameTextStyle: { fontSize: 19, color: TEXT_COLOR, fontFamily: FONT },
    axisLine: { show: true, onZero: false, lineStyle: { color: AXIS_COLOR, width: 1 } },
    axisTick: { show: true, length: 5, customValues: ticks, lineStyle: { color: AXIS_COLOR } },
    axisLabel: { customValues: ticks, rotate: 90, fontSize: 17.5, margin: margin, color: TEXT_COLOR, fontFamily: FONT },
    splitLine: { show: true, lineStyle: { color: '#e3ecf2', width: 1 } }
  };
}

const titleStyle = { fontSize: 25, fontWeight: 'normal', color: '#27395f', fontFamily: FONT };
const legendText = { fontSize: 19, color: TEXT_COLOR, fontFamily: FONT, padding: [0, 0, 0, 8] };
const frame = { fill: 'none', stroke: '#e8eef2', lineWidth: 1 };

function legendFor(left, name) {
  return {
    left: left, top: 624, itemWidth: 58, itemHeight: 14, selectedMode: false, z: 10,
    data: [name], textStyle: legendText,
    itemStyle: { opacity: 0 },
    lineStyle: { color: '#222', width: 2 }
  };
}

const chart = echarts.init(document.getElementById('chart'));
chart.setOption({
  animation: false,
  backgroundColor: '#fff',
  textStyle: { fontFamily: FONT },
  title: [
    { text: 'First Stage', left: 292, top: 45, textAlign: 'center', textStyle: titleStyle },
    { text: 'Reduced Form', left: 784, top: 45, textAlign: 'center', textStyle: titleStyle }
  ],
  grid: [
    { left: 88, top: 79, width: 409, height: 579, containLabel: false },
    { left: 582, top: 80, width: 406, height: 578, containLabel: false }
  ],
  xAxis: [xAxisFor(0, -4.31, 4.83), xAxisFor(1, -4.27, 4.80)],
  yAxis: [
    yAxisFor(0, -4.22, 4.17, firstYTicks, 'Formal Job Participation', 21.5, 11),
    yAxisFor(1, -4.25, 6.2, reducedYTicks, 'Veil Take-up', 24.5, 15)
  ],
  legend: [legendFor(100, firstLegendText), legendFor(592, reducedLegendText)],
  graphic: [
    { type: 'rect', silent: true, z: -10, shape: { x: 8.5, y: 10.5, width: 993, height: 726 }, style: frame },
    { type: 'rect', silent: true, z: -10, shape: { x: 24.5, y: 25.5, width: 490, height: 705 }, style: frame },
    { type: 'rect', silent: true, z: -10, shape: { x: 517.5, y: 25.5, width: 481, height: 705 }, style: frame },
    { type: 'rect', silent: true, z: 5, shape: { x: 97.5, y: 615.5, width: 392, height: 36 },
      style: { fill: '#fff', stroke: '#555', lineWidth: 1 } },
    { type: 'rect', silent: true, z: 5, shape: { x: 588.5, y: 615.5, width: 393, height: 36 },
      style: { fill: '#fff', stroke: '#555', lineWidth: 1 } }
  ],
  series: [
    { type: 'scatter', xAxisIndex: 0, yAxisIndex: 0, silent: true, symbol: 'circle', symbolSize: 7.5,
      itemStyle: ringStyle,
      data: firstScatter.concat(rowsToPoints(firstCoreRows), rowsToPoints(firstFillRows), rowsToPoints(firstFringeRows)) },
    { type: 'line', name: firstLegendText, xAxisIndex: 0, yAxisIndex: 0, silent: true, symbol: 'none', z: 3,
      lineStyle: { color: '#222', width: 2 }, itemStyle: { color: '#222' }, data: firstFit },
    { type: 'scatter', xAxisIndex: 1, yAxisIndex: 1, silent: true, symbol: 'circle', symbolSize: 7.5,
      itemStyle: ringStyle,
      data: reducedScatter.concat(rowsToPoints(reducedCoreRows), rowsToPoints(reducedFillRows), rowsToPoints(reducedFringeRows)) },
    { type: 'line', name: reducedLegendText, xAxisIndex: 1, yAxisIndex: 1, silent: true, symbol: 'none', z: 3,
      lineStyle: { color: '#222', width: 2 }, itemStyle: { color: '#222' }, data: reducedFit }
  ]
});
</script>
</body>
</html>
